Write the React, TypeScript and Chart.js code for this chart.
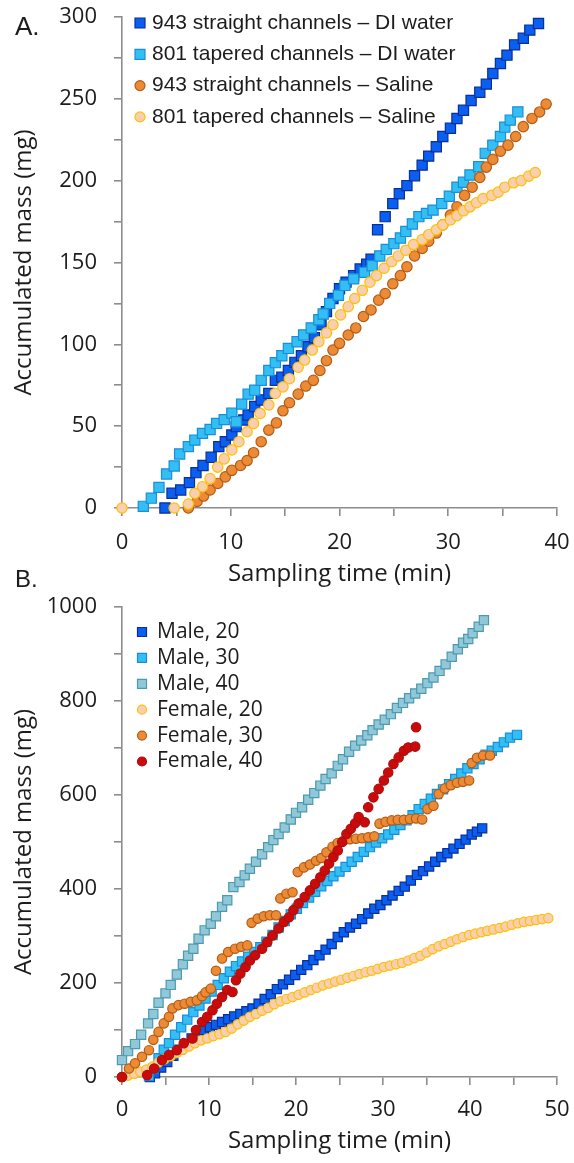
import React, { useEffect, useRef } from 'react';
import { Chart, registerables } from 'chart.js';

Chart.register(...registerables);

// ---------- Panel A data ----------
const aLabels = [
  '943 straight channels – DI water',
  '801 tapered channels – DI water',
  '943 straight channels – Saline',
  '801 tapered channels – Saline',
];
const aTicksX = [0, 10, 20, 30, 40];
const aTicksY = [0, 50, 100, 150, 200, 250, 300];

const a1X = [3.95, 4.6, 5.4, 6.2, 6.8, 7.45, 8.2, 8.9, 9.5, 10.1, 10.5, 11.2, 11.6, 12.2, 12.8, 13.5, 14.1, 14.7, 15.3, 15.9, 16.5, 17.1, 17.7, 18.3, 18.8, 19.4, 20.0, 20.6, 21.3, 21.9, 22.5, 22.9, 23.5, 24.2, 24.9, 25.5, 26.2, 26.9, 27.6, 28.2, 28.9, 29.5, 30.2, 30.8, 31.4, 32.1, 32.9, 33.5, 34.1, 34.8, 35.4, 36.1, 36.9, 37.5, 38.3];
const a1Y = [0, 9, 11, 15.5, 21.6, 26, 31, 37.5, 40.5, 44.6, 49.7, 53.8, 56.8, 62, 66, 70, 78, 80, 84, 89, 93, 98.5, 104, 112, 120, 128, 134, 138, 142, 146, 149, 152, 170, 178, 186, 192, 197, 203, 209.5, 215, 220.7, 227, 232, 238, 243, 249, 254, 259, 265.5, 271.6, 276.7, 283, 287, 292, 296];

const a2X = [1.96, 2.7, 3.4, 4.1, 4.8, 5.3, 6.1, 6.7, 7.4, 8.1, 8.7, 9.4, 10.1, 10.5, 11.0, 11.6, 12.2, 12.8, 13.5, 14.1, 14.7, 15.3, 16.1, 16.7, 17.4, 18.1, 18.5, 19.1, 19.9, 20.5, 21.3, 22.3, 23.0, 23.7, 24.3, 25.0, 25.6, 26.1, 26.7, 27.3, 28.0, 28.6, 29.4, 30.1, 30.8, 31.4, 32.0, 32.8, 33.4, 34.1, 34.8, 35.2, 35.7, 36.4];
const a2Y = [1, 6, 12.6, 20.8, 25.7, 33, 37.5, 41.5, 45.6, 48, 51.7, 54, 58, 52.7, 63.5, 69.6, 72, 78, 84, 88.8, 93, 97.5, 101.6, 105.7, 110, 115, 118.5, 125, 130, 136, 140, 144, 148, 154, 158, 161.5, 165, 169, 173.5, 178, 180, 182, 186, 190.5, 196, 199, 203.5, 208.5, 216.7, 221.7, 227, 232.7, 237, 242];

const a3X = [6.1, 6.9, 7.5, 8.1, 8.8, 9.5, 10.1, 10.9, 11.5, 12.1, 12.8, 13.5, 14.2, 14.8, 15.4, 16.2, 16.9, 17.6, 18.2, 18.8, 19.4, 20.0, 20.8, 21.5, 22.2, 22.9, 23.6, 24.2, 24.9, 25.6, 26.2, 26.9, 27.6, 28.2, 28.9, 29.5, 30.2, 30.8, 31.5, 32.2, 32.9, 33.5, 34.1, 34.8, 35.5, 36.2, 36.9, 37.7, 38.4, 39.0];
const a3Y = [0, 4, 7.3, 11, 15, 19, 23, 26, 29, 33.8, 40.5, 47.6, 52, 59.4, 64.3, 69.6, 74.5, 78, 84, 90, 96.5, 100.6, 105.7, 110, 117, 121, 127, 131, 137, 142, 147.4, 154, 158.6, 163, 168, 173, 179, 184, 191, 196, 202, 208.3, 213, 218, 221.7, 227, 233, 238, 242, 246.8];

const a4X = [0, 4.8, 6.1, 6.7, 7.4, 8.1, 8.8, 9.4, 10.1, 10.75, 11.5, 12.1, 12.7, 13.5, 14.1, 14.8, 15.4, 16.2, 16.8, 17.5, 18.1, 18.8, 19.4, 20.1, 20.8, 21.4, 22.1, 22.8, 23.4, 24.1, 24.8, 25.4, 26.1, 26.8, 27.6, 28.2, 28.9, 29.5, 30.2, 30.8, 31.4, 32.0, 32.6, 33.2, 34.0, 34.6, 35.2, 36.0, 36.7, 37.4, 38.0];
const a4Y = [0, 0, 2.4, 9, 13, 18, 25, 30, 35.5, 40.5, 46.6, 51.7, 57.8, 63, 70, 74, 79, 86, 90.4, 96.5, 101.6, 107, 112, 118, 123, 128, 133, 138, 142, 146.5, 150.5, 154, 157.5, 161, 164, 167, 170, 173, 176, 178.6, 181.6, 184, 186.5, 189, 191, 193, 196, 198.7, 200, 202.8, 205];

// ---------- Panel B data ----------
const bLabels = ['Male, 20', 'Male, 30', 'Male, 40', 'Female, 20', 'Female, 30', 'Female, 40'];
const bTicksX = [0, 10, 20, 30, 40, 50];
const bTicksY = [0, 200, 400, 600, 800, 1000];

const b1X = [3.2, 3.8, 4.5, 5.2, 5.9, 6.6, 7.3, 8.0, 8.7, 9.4, 10.1, 10.8, 11.5, 12.2, 12.9, 13.6, 14.3, 15.0, 15.7, 16.4, 17.1, 17.8, 18.5, 19.2, 19.9, 20.6, 21.3, 22.0, 22.7, 23.4, 24.1, 24.8, 25.5, 26.2, 26.9, 27.6, 28.3, 29.0, 29.7, 30.4, 31.1, 31.8, 32.5, 33.2, 33.9, 34.6, 35.3, 36.0, 36.7, 37.4, 38.1, 38.8, 39.5, 40.2, 40.8, 41.4];
const b1Y = [0, 8, 20, 32, 45, 58, 70, 82, 92, 100, 106, 111, 117, 123, 129, 134, 140, 146, 156, 166, 176, 187, 197, 207, 217, 228, 238, 249, 259, 271, 283, 298, 308, 318, 326, 336, 348, 358, 366, 376, 386, 396, 405, 418, 430, 438, 448, 458, 468, 476, 486, 496, 505, 516, 522, 529];

const b2X = [3.1, 3.6, 4.2, 4.8, 5.4, 6.1, 6.8, 7.5, 8.2, 8.9, 9.6, 10.3, 11.0, 11.7, 12.4, 13.1, 13.8, 14.5, 15.2, 15.9, 16.6, 17.3, 18.0, 18.7, 19.4, 20.1, 20.8, 21.5, 22.2, 22.9, 23.6, 24.3, 25.0, 25.7, 26.4, 27.1, 27.8, 28.5, 29.2, 29.9, 30.6, 31.3, 32.0, 32.7, 33.4, 34.1, 34.8, 35.5, 36.2, 36.9, 37.6, 38.3, 39.0, 39.7, 40.4, 41.1, 41.8, 42.5, 43.2, 43.9, 44.6, 45.4];
const b2Y = [2, 18, 40, 58, 72, 90, 106, 122, 138, 152, 167, 182, 196, 210, 224, 236, 246, 256, 266, 276, 288, 302, 318, 332, 346, 358, 370, 382, 394, 406, 417, 427, 437, 447, 458, 468, 479, 489, 499, 508, 516, 526, 536, 546, 557, 570, 581, 592, 602, 612, 623, 634, 646, 657, 666, 676, 686, 694, 702, 712, 722, 728];

const b3X = [0, 0.7, 1.5, 2.2, 3.0, 3.6, 4.2, 5.0, 5.6, 6.3, 7.0, 7.6, 8.2, 8.8, 9.5, 10.2, 10.8, 11.5, 12.1, 12.8, 13.5, 14.1, 14.7, 15.4, 16.1, 16.8, 17.4, 18.0, 18.7, 19.4, 20.0, 20.7, 21.4, 22.1, 22.8, 23.4, 24.1, 24.8, 25.4, 26.1, 26.8, 27.5, 28.2, 28.8, 29.5, 30.2, 30.9, 31.6, 32.3, 33.0, 33.7, 34.4, 35.1, 35.8, 36.5, 37.2, 37.9, 38.6, 39.2, 39.8, 40.3, 41.0, 41.6];
const b3Y = [36, 55, 70, 90, 114, 134, 158, 178, 196, 218, 240, 258, 273, 294, 312, 326, 342, 362, 376, 404, 415, 429, 443, 458, 474, 489, 504, 517, 531, 548, 562, 574, 590, 604, 620, 634, 646, 662, 676, 692, 705, 716, 727, 738, 750, 760, 772, 785, 796, 806, 816, 826, 838, 850, 864, 878, 894, 910, 924, 932, 944, 958, 972];

const b4X = [0, 0.7, 1.4, 2.1, 2.8, 3.5, 4.2, 4.9, 5.6, 6.3, 7.0, 7.7, 8.4, 9.1, 9.8, 10.5, 11.2, 11.9, 12.6, 13.3, 14.0, 14.7, 15.4, 16.1, 16.8, 17.5, 18.2, 18.9, 19.6, 20.3, 21.0, 21.7, 22.4, 23.1, 23.8, 24.5, 25.2, 25.9, 26.6, 27.3, 28.0, 28.7, 29.4, 30.1, 30.8, 31.5, 32.2, 32.9, 33.6, 34.3, 35.0, 35.7, 36.4, 37.1, 37.8, 38.5, 39.2, 39.9, 40.6, 41.3, 42.0, 42.7, 43.4, 44.1, 44.8, 45.5, 46.2, 46.9, 47.6, 48.3, 49.0];
const b4Y = [0, 3, 7, 11, 16, 22, 31, 38, 44, 51, 58, 65, 72, 78, 82, 87, 91, 96, 103, 112, 120, 128, 134, 141, 147, 155, 161, 166, 170, 175, 180, 185, 190, 195, 199, 203, 207, 211, 215, 219, 223, 226, 230, 234, 237, 240, 243, 248, 253, 258, 265, 272, 278, 283, 288, 293, 298, 302, 305, 308, 311, 314, 317, 320, 324, 327, 330, 332, 334, 336, 338];

const b5X = [0, 0.8, 1.5, 2.3, 3.1, 3.6, 4.2, 4.8, 5.4, 5.8, 6.5, 7.2, 7.9, 8.6, 9.2, 9.6, 10.2, 10.8, 11.5, 12.2, 13.0, 13.7, 14.4, 14.9, 15.6, 16.3, 17.0, 17.7, 18.2, 18.9, 19.6, 20.2, 20.9, 21.6, 22.3, 22.9, 23.5, 24.2, 24.8, 25.5, 26.2, 26.9, 27.6, 28.3, 29.0, 29.6, 30.3, 31.0, 31.7, 32.4, 33.1, 33.8, 34.5, 35.1, 35.8, 36.4, 37.1, 37.8, 38.5, 39.2, 39.9, 40.2, 40.8, 41.5, 42.3];
const b5Y = [0, 18, 29, 43, 57, 79, 96, 114, 128, 146, 153, 156, 160, 163, 172, 180, 188, 226, 252, 266, 273, 277, 280, 328, 337, 342, 344, 344, 380, 390, 393, 436, 446, 452, 460, 466, 478, 490, 498, 503, 506, 507, 508, 510, 512, 539, 543, 546, 547, 547, 549, 550, 548, 570, 577, 602, 614, 621, 626, 628, 631, 668, 679, 684, 684];

const b6X = [0, 2.9, 3.7, 4.6, 5.4, 6.3, 7.1, 8.1, 8.5, 9.2, 9.8, 10.4, 10.9, 11.5, 12.1, 12.7, 13.1, 13.6, 14.2, 14.7, 15.3, 16.1, 16.7, 17.3, 18.0, 18.6, 19.2, 19.7, 20.3, 21.0, 21.6, 22.2, 22.8, 23.3, 23.8, 24.3, 24.8, 25.3, 25.8, 26.3, 26.8, 27.2, 27.9, 28.3, 28.9, 29.5, 30.1, 30.6, 31.2, 31.8, 32.4, 32.9, 33.7, 33.8];
const b6Y = [0, 4, 18, 36, 47, 57, 72, 82, 100, 117, 128, 142, 156, 170, 185, 181, 206, 220, 234, 248, 259, 273, 287, 301, 316, 330, 340, 355, 369, 383, 397, 411, 425, 439, 454, 468, 482, 500, 517, 528, 540, 553, 542, 574, 595, 613, 631, 648, 666, 680, 694, 701, 703, 744];

// ---------- styles ----------
const AXIS_COLOR = '#8c8c8c';
const TEXT_COLOR = '#1c1c1c';

const toPts = (xs: number[], ys: number[]) => xs.map((x, i) => ({ x, y: ys[i] }));

const legendPlugin = {
  id: 'customLegend',
  afterDraw(chart: any, _args: any, opts: any) {
    if (!opts || !opts.show) return;
    const ctx = chart.ctx;
    ctx.save();
    chart.data.datasets.forEach((ds: any, i: number) => {
      const y = opts.y0 + i * opts.dy;
      const x = opts.markerX;
      const s = opts.markerSize;
      ctx.fillStyle = ds.pointBackgroundColor;
      ctx.strokeStyle = ds.pointBorderColor;
      ctx.lineWidth = 1.2;
      ctx.beginPath();
      if (ds.pointStyle === 'rect') ctx.rect(x - s / 2, y - s / 2, s, s);
      else ctx.arc(x, y, s / 2, 0, Math.PI * 2);
      ctx.fill();
      ctx.stroke();
      ctx.fillStyle = TEXT_COLOR;
      ctx.font = opts.font;
      ctx.textBaseline = 'middle';
      ctx.textAlign = 'left';
      ctx.fillText(ds.label, opts.textX, y);
    });
    ctx.restore();
  },
};

function axis(
  min: number, max: number, step: number, labels: number[], title: string,
  isX: boolean, fitSize: number, titlePad: any, tickPad: number,
) {
  return {
    type: 'linear',
    position: isX ? 'bottom' : 'left',
    min, max,
    afterFit: (s: any) => {
      if (isX) s.height = fitSize; else s.width = fitSize;
      s.paddingTop = 0; s.paddingBottom = 0; s.paddingLeft = 0; s.paddingRight = 0;
    },
    afterBuildTicks: (s: any) => {
      const t: any[] = [];
      for (let v = min; v <= max + 1e-9; v += step) t.push({ value: v });
      s.ticks = t;
    },
    border: { display: true, color: AXIS_COLOR, width: 1.6 },
    grid: { drawOnChartArea: false, drawTicks: true, tickLength: 8, color: AXIS_COLOR, lineWidth: 1.6 },
    ticks: {
      autoSkip: false, maxRotation: 0, padding: tickPad,
      color: TEXT_COLOR, font: { family: 'Open Sans', size: 22 },
      callback: (v: any) => (labels.includes(Number(v)) ? String(v) : ''),
    },
    title: {
      display: true, text: title, color: TEXT_COLOR,
      font: { family: 'Open Sans', size: 24 }, padding: titlePad,
    },
  };
}

function makeDs(label: string, xs: number[], ys: number[], style: string, r: number, fill: string, border: string, order: number) {
  return {
    label, data: toPts(xs, ys), pointStyle: style, pointRadius: r,
    pointBackgroundColor: fill, pointBorderColor: border, pointBorderWidth: 1.2,
    backgroundColor: fill, borderColor: border, showLine: false, clip: false, order,
  };
}

const DARK_BLUE = ['#0a5ff0', '#0a2f96'];
const LIGHT_BLUE = ['#33bff4', '#1a8ed6'];
const ORANGE = ['#ec8a35', '#b35c14'];
const PEACH = ['#f9cfb2', '#ffc000'];
const TEAL = ['#91c7d7', '#4a9ab2'];
const RED = ['#cc0a0a', '#a81010'];

function configA(): any {
  return {
    type: 'scatter',
    data: {
      datasets: [
        makeDs(aLabels[0], a1X, a1Y, 'rect', 7.2, DARK_BLUE[0], DARK_BLUE[1], 4),
        makeDs(aLabels[1], a2X, a2Y, 'rect', 7.2, LIGHT_BLUE[0], LIGHT_BLUE[1], 3),
        makeDs(aLabels[2], a3X, a3Y, 'circle', 5.2, ORANGE[0], ORANGE[1], 2),
        makeDs(aLabels[3], a4X, a4Y, 'circle', 5.2, PEACH[0], PEACH[1], 1),
      ],
    },
    options: {
      responsive: false, animation: false, events: [],
      layout: { autoPadding: false, padding: { top: 17, right: 17, left: 0, bottom: 0 } },
      scales: {
        x: axis(0, 40, 5, aTicksX, 'Sampling time (min)', true, 84, { top: 0, bottom: 3 }, 14),
        y: axis(0, 300, 25, aTicksY, 'Accumulated mass (mg)', false, 122, { top: 10, bottom: 0 }, 17),
      },
      plugins: {
        legend: { display: false }, tooltip: { enabled: false },
        customLegend: { show: true, y0: 23, dy: 31.3, markerX: 140, markerSize: 10, textX: 152, font: '21px "Liberation Sans", Arial, sans-serif' },
      },
    },
    plugins: [legendPlugin],
  };
}

function configB(): any {
  return {
    type: 'scatter',
    data: {
      datasets: [
        makeDs(bLabels[0], b1X, b1Y, 'rect', 6.5, DARK_BLUE[0], DARK_BLUE[1], 6),
        makeDs(bLabels[1], b2X, b2Y, 'rect', 6.5, LIGHT_BLUE[0], LIGHT_BLUE[1], 5),
        makeDs(bLabels[2], b3X, b3Y, 'rect', 6.5, TEAL[0], TEAL[1], 4),
        makeDs(bLabels[3], b4X, b4Y, 'circle', 4.7, PEACH[0], PEACH[1], 3),
        makeDs(bLabels[4], b5X, b5Y, 'circle', 4.7, ORANGE[0], ORANGE[1], 2),
        makeDs(bLabels[5], b6X, b6Y, 'circle', 4.7, RED[0], RED[1], 1),
      ],
    },
    options: {
      responsive: false, animation: false, events: [],
      layout: { autoPadding: false, padding: { top: 15, right: 17, left: 0, bottom: 0 } },
      scales: {
        x: axis(0, 50, 5, bTicksX, 'Sampling time (min)', true, 86, { top: 0, bottom: 7 }, 12),
        y: axis(0, 1000, 100, bTicksY, 'Accumulated mass (mg)', false, 122, { top: 10, bottom: 0 }, 17),
      },
      plugins: {
        legend: { display: false }, tooltip: { enabled: false },
        customLegend: { show: true, y0: 40, dy: 25.9, markerX: 142, markerSize: 9, textX: 157, font: '21px "Open Sans", sans-serif' },
      },
    },
    plugins: [legendPlugin],
  };
}

export default function App() {
  const refA = useRef<HTMLCanvasElement | null>(null);
  const refB = useRef<HTMLCanvasElement | null>(null);

  useEffect(() => {
    Chart.defaults.font.family = 'Open Sans';
    const ca = new Chart(refA.current as HTMLCanvasElement, configA());
    const cb = new Chart(refB.current as HTMLCanvasElement, configB());
    return () => { ca.destroy(); cb.destroy(); };
  }, []);

  const letter = (top: number, size: number): React.CSSProperties => ({
    position: 'absolute', left: 15, top, fontFamily: '"Liberation Sans", Arial, sans-serif',
    fontSize: size, lineHeight: 1, color: TEXT_COLOR,
  });

  return (
    <div style={{ position: 'absolute', left: 0, top: 0, width: 574, height: 1163, background: '#fff', overflow: 'hidden' }}>
      <canvas ref={refA} width={574} height={592} style={{ position: 'absolute', left: 0, top: 0, display: 'block' }} />
      <canvas ref={refB} width={574} height={571} style={{ position: 'absolute', left: 0, top: 592, display: 'block' }} />
      <div style={letter(12.5, 26)}>A.</div>
      <div style={letter(567, 24)}>B.</div>
    </div>
  );
}
